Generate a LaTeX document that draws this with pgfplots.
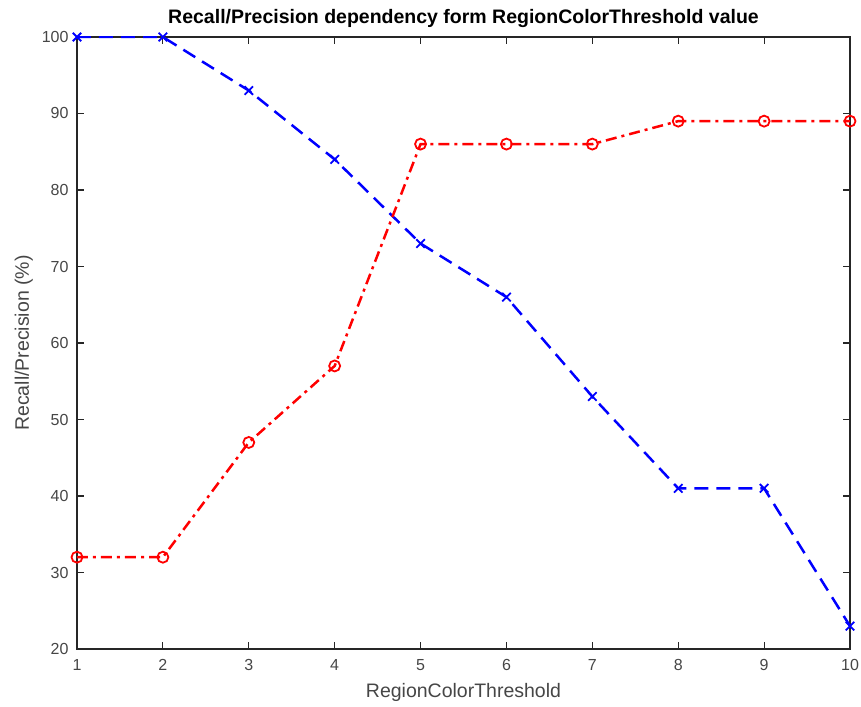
\documentclass[border=0pt]{standalone}
\usepackage{pgfplots}
\pgfplotsset{compat=1.18}
\usepackage{fontspec}
\setmainfont{Liberation Sans}
\definecolor{axgray}{RGB}{38,38,38}
\definecolor{tickgray}{RGB}{70,70,70}
\begin{document}
\begin{tikzpicture}
\begin{axis}[
  scale only axis,
  width=773pt, height=612pt,
  xmin=1, xmax=10, ymin=20, ymax=100,
  xtick={1,...,10}, ytick={20,30,...,100},
  tick align=inside,
  major tick length=7pt,
  axis line style={axgray, line width=1.1pt},
  every tick/.style={axgray, line width=1.1pt},
  tick label style={font=\fontsize{16}{18}\selectfont, text=tickgray},
  /pgf/number format/assume math mode=true,
  xticklabel style={yshift=-7pt},
  yticklabel style={xshift=-5pt},
  title={\textbf{Recall/Precision dependency form RegionColorThreshold value}},
  title style={font=\fontsize{19.5}{22}\selectfont, yshift=0pt},
  xlabel={RegionColorThreshold},
  ylabel={Recall/Precision (\%)},
  xlabel style={font=\fontsize{19.5}{22}\selectfont, text=tickgray, yshift=-6pt},
  ylabel style={font=\fontsize{19.5}{22}\selectfont, text=tickgray, yshift=2pt},
]
\addplot[blue, line width=2.5pt, dash pattern=on 14pt off 8pt, mark=x, mark size=6pt, mark options={solid, line width=1.8pt}]
  coordinates {(1,100) (2,100) (3,93) (4,84) (5,73) (6,66) (7,53) (8,41) (9,41) (10,23)};
\addplot[red, line width=2.5pt, dash pattern=on 11pt off 5pt on 3pt off 5pt, mark=o, mark size=5.5pt, mark options={solid, line width=1.8pt}]
  coordinates {(1,32) (2,32) (3,47) (4,57) (5,86) (6,86) (7,86) (8,89) (9,89) (10,89)};
\end{axis}
\pgfresetboundingbox
\path (current axis.south west) ++(-77pt,-57pt) coordinate (bl);
\path (current axis.north east) ++(11pt,37pt) coordinate (tr);
\path[use as bounding box] (bl) rectangle (tr);
\end{tikzpicture}
\end{document}
